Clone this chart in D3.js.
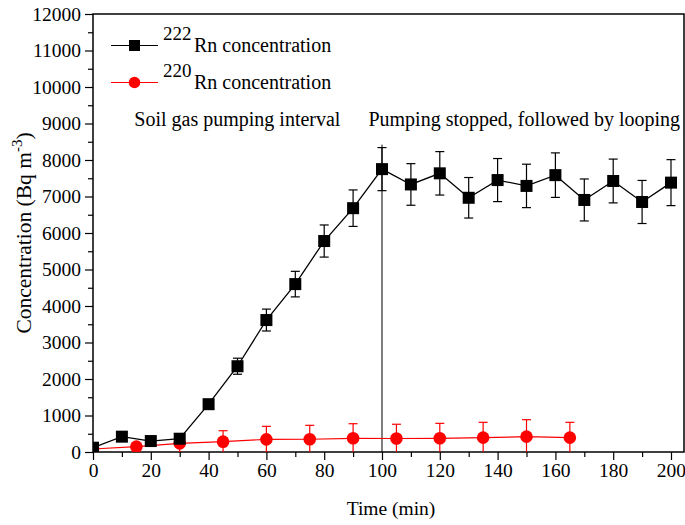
<!DOCTYPE html>
<html><head><meta charset="utf-8">
<script src="https://cdn.jsdelivr.net/npm/d3@7"></script>
<style>body{margin:0;background:#fff}svg{display:block}text{font-family:"Liberation Serif","Times New Roman",serif;fill:#000}</style>
</head><body>
<script>
// ---- data ----
const rn222Time = [0,10,20,30,40,50,60,70,80,90,100,110,120,130,140,150,160,170,180,190,200];
const rn222Value = [118,420,300,364,1310,2350,3615,4600,5780,6680,7750,7330,7635,6965,7450,7290,7585,6905,7425,6850,7380];
const rn222Err = [0,0,0,0,110,220,300,350,440,500,590,570,595,555,590,595,610,575,600,590,630];
const rn220Time = [0,15,30,45,60,75,90,105,120,135,150,165];
const rn220Value = [82,146,237,283,347,350,375,370,375,393,420,393];
const rn220Err = [0,0,250,300,356,381,400,390,410,420,465,420];
const xTicks = [0,20,40,60,80,100,120,140,160,180,200];
const yTicks = [0,1000,2000,3000,4000,5000,6000,7000,8000,9000,10000,11000,12000];
const dividerTime = 100, dividerTop = 8420;
const annotations = [{t:"Soil gas pumping interval", x:14.3, y:9000},{t:"Pumping stopped, followed by looping", x:95.3, y:9000}];

const W=685,H=525, L=93, R=684, T=14, B=452;
const FONT="'Liberation Serif','Times New Roman',serif";
const svg=d3.select("body").append("svg").attr("width",W).attr("height",H);
const x=d3.scaleLinear().domain([0,204.5]).range([L,R]);
const y=d3.scaleLinear().domain([0,12000]).range([B,T]);

svg.append("defs").append("clipPath").attr("id","clip").append("rect").attr("x",L).attr("y",T).attr("width",R-L).attr("height",B-T);

// axes
svg.append("g").attr("transform",`translate(0,${B})`)
  .call(d3.axisBottom(x).tickValues(xTicks).tickSize(8).tickPadding(3).tickFormat(d3.format("d")));
svg.append("g").attr("transform",`translate(0,${B})`)
  .call(d3.axisBottom(x).tickValues(d3.range(10,204,20)).tickSize(5).tickFormat(""));
svg.append("g").attr("transform",`translate(${L},0)`)
  .call(d3.axisLeft(y).tickValues(yTicks).tickSize(8).tickPadding(4).tickFormat(d3.format("d")));
svg.append("g").attr("transform",`translate(${L},0)`)
  .call(d3.axisLeft(y).tickValues(d3.range(500,12000,1000)).tickSize(5).tickFormat(""));
svg.selectAll(".domain").remove();
svg.selectAll(".tick line").attr("stroke","#000").attr("stroke-width",1.2);
svg.selectAll(".tick text").style("font-size","19.5px");
// frame
svg.append("rect").attr("x",L).attr("y",T).attr("width",R-L).attr("height",B-T).attr("fill","none").attr("stroke","#000").attr("stroke-width",1.5);

// labels
svg.append("text").attr("x",391).attr("y",515).attr("text-anchor","middle").style("font-size","19.5px").text("Time (min)");
const yl=svg.append("text").attr("transform","translate(31,233) rotate(-90)").attr("text-anchor","middle").style("font-size","21.5px");
yl.append("tspan").text("Concentration (Bq m");
yl.append("tspan").attr("dy",-9).style("font-size","15px").text("-3");
yl.append("tspan").attr("dy",9).text(")");

annotations.forEach(a=>svg.append("text").attr("x",x(a.x)).attr("y",y(a.y)+2).style("font-size","20px").text(a.t));

// divider line
svg.append("line").attr("x1",x(dividerTime)).attr("x2",x(dividerTime)).attr("y1",y(0)).attr("y2",y(dividerTop)).attr("stroke","#000").attr("stroke-width",1);

const g=svg.append("g").attr("clip-path","url(#clip)");
function errs(times,vals,errsArr,color){
  times.forEach((t,i)=>{
    const e=errsArr[i]; if(!e) return;
    const cx=x(t);
    g.append("line").attr("x1",cx).attr("x2",cx).attr("y1",y(vals[i]-e)).attr("y2",y(vals[i]+e)).attr("stroke",color).attr("stroke-width",1.2);
    [vals[i]-e,vals[i]+e].forEach(v=>g.append("line").attr("x1",cx-4.5).attr("x2",cx+4.5).attr("y1",y(v)).attr("y2",y(v)).attr("stroke",color).attr("stroke-width",1.2));
  });
}
errs(rn222Time,rn222Value,rn222Err,"#000");
errs(rn220Time,rn220Value,rn220Err,"#ff0000");

const line=d3.line().x(d=>x(d[0])).y(d=>y(d[1]));
g.append("path").datum(rn220Time.map((t,i)=>[t,rn220Value[i]])).attr("d",line).attr("fill","none").attr("stroke","#ff0000").attr("stroke-width",1.2);
g.append("path").datum(rn222Time.map((t,i)=>[t,rn222Value[i]])).attr("d",line).attr("fill","none").attr("stroke","#000").attr("stroke-width",1.3);

g.selectAll("circle.r").data(rn220Time.map((t,i)=>[t,rn220Value[i]])).enter().append("circle")
  .attr("cx",d=>x(d[0])).attr("cy",d=>y(d[1])).attr("r",6.3).attr("fill","#ff0000");
g.selectAll("rect.b").data(rn222Time.map((t,i)=>[t,rn222Value[i]])).enter().append("rect")
  .attr("x",d=>x(d[0])-6).attr("y",d=>y(d[1])-6).attr("width",12).attr("height",12).attr("fill","#000");

// legend
const leg=[{sup:"222",color:"#000",shape:"sq",y:45.5},{sup:"220",color:"#ff0000",shape:"ci",y:82.5}];
leg.forEach(l=>{
  svg.append("line").attr("x1",111).attr("x2",158).attr("y1",l.y).attr("y2",l.y).attr("stroke",l.color).attr("stroke-width",1.2);
  if(l.shape==="sq") svg.append("rect").attr("x",134.5-5.5).attr("y",l.y-5.5).attr("width",11).attr("height",11).attr("fill",l.color);
  else svg.append("circle").attr("cx",134.5).attr("cy",l.y).attr("r",5.8).attr("fill",l.color);
  svg.append("text").attr("x",163).attr("y",l.y-5.5).style("font-size","19px").text(l.sup);
  svg.append("text").attr("x",194).attr("y",l.y+6.5).style("font-size","20px").text("Rn concentration");
});
svg.selectAll("text").style("font-family",FONT);
</script>
</body></html>
